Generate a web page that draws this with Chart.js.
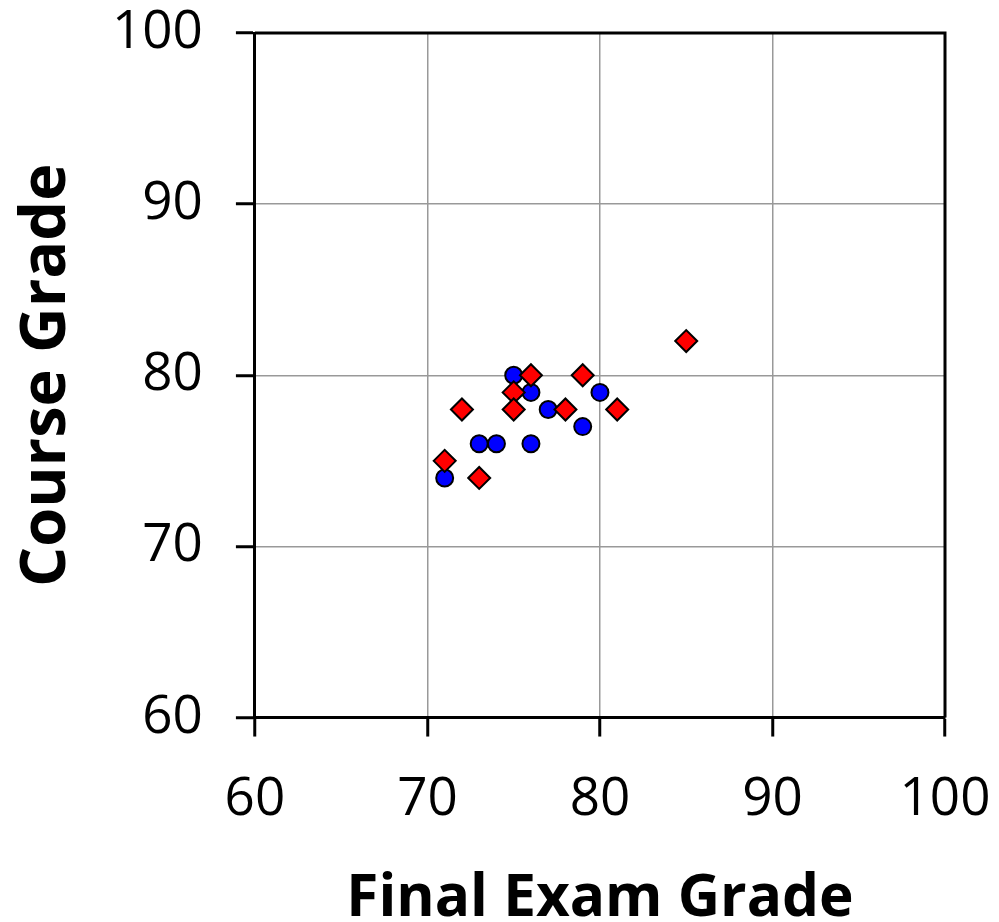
<!DOCTYPE html>
<html>
<head>
<meta charset="utf-8">
<script src="https://cdn.jsdelivr.net/npm/chart.js@4/dist/chart.umd.min.js"></script>
<style>
  html, body { margin: 0; padding: 0; background: #fff; }
  #wrap { width: 999px; height: 922px; }
</style>
</head>
<body>
<div id="wrap"><canvas id="chart" width="999" height="922"></canvas></div>
<script>
"use strict";

// Blue circles series
const blueX = [75, 76, 77, 80, 79, 73, 74, 76, 71];
const blueY = [80, 79, 78, 79, 77, 76, 76, 76, 74];

// Red diamonds series
const redX = [85, 76, 79, 75, 72, 75, 78, 81, 71, 73];
const redY = [82, 80, 80, 79, 78, 78, 78, 78, 75, 74];

const axisTicks = [60, 70, 80, 90, 100];

function toPoints(xs, ys) {
    return xs.map((x, i) => ({ x: x, y: ys[i] }));
}

// draws the top and right edges of the plot box
const frameBox = {
    id: 'frameBox',
    afterDraw(chart) {
        const a = chart.chartArea;
        const ctx = chart.ctx;
        ctx.save();
        ctx.strokeStyle = '#000';
        ctx.lineWidth = 3;
        ctx.beginPath();
        ctx.moveTo(a.left, a.top);
        ctx.lineTo(a.right, a.top);
        ctx.lineTo(a.right, a.bottom);
        ctx.stroke();
        ctx.restore();
    }
};

const tickFont = { family: 'Open Sans', size: 53, lineHeight: 1.0 };
const xTitleFont = { family: 'Open Sans', size: 58.5, weight: 'bold', lineHeight: 0.76 };
const yTitleFont = { family: 'Open Sans', size: 63, weight: 'bold', lineHeight: 1.0 };

new Chart(document.getElementById('chart'), {
    type: 'scatter',
    data: {
        datasets: [
            {
                label: 'Blue',
                data: toPoints(blueX, blueY),
                pointStyle: 'circle',
                pointRadius: 8.5,
                pointBackgroundColor: '#0000ff',
                pointBorderColor: '#000',
                pointBorderWidth: 2,
                order: 2
            },
            {
                label: 'Red',
                data: toPoints(redX, redY),
                pointStyle: 'rectRot',
                pointRadius: 11,
                pointBackgroundColor: '#ff0000',
                pointBorderColor: '#000',
                pointBorderWidth: 2,
                order: 1
            }
        ]
    },
    options: {
        responsive: false,
        animation: false,
        layout: { padding: { left: 16, right: 54, top: 33, bottom: 0 } },
        plugins: { legend: { display: false }, tooltip: { enabled: false } },
        scales: {
            x: {
                type: 'linear',
                min: 60, max: 100,
                afterBuildTicks: axis => { axis.ticks = axisTicks.map(v => ({ value: v })); },
                afterFit: axis => { axis.paddingLeft = 0; axis.paddingRight = 0; },
                ticks: { font: tickFont, color: '#000', padding: 37, maxRotation: 0 },
                grid: { color: '#999', lineWidth: 1.5, tickColor: '#000', tickWidth: 3, tickLength: 19 },
                border: { color: '#000', width: 3 },
                title: { display: true, text: 'Final Exam Grade', font: xTitleFont, color: '#000', padding: { top: 14, bottom: 0 } }
            },
            y: {
                type: 'linear',
                min: 60, max: 100,
                afterBuildTicks: axis => { axis.ticks = axisTicks.map(v => ({ value: v })); },
                afterFit: axis => { axis.paddingTop = 0; axis.paddingBottom = 0; },
                ticks: { font: tickFont, color: '#000', padding: 33 },
                grid: { color: '#999', lineWidth: 1.5, tickColor: '#000', tickWidth: 3, tickLength: 19 },
                border: { color: '#000', width: 3 },
                title: { display: true, text: 'Course Grade', font: yTitleFont, color: '#000', padding: { top: 0, bottom: 0 } }
            }
        }
    },
    plugins: [frameBox]
});
</script>
</body>
</html>
